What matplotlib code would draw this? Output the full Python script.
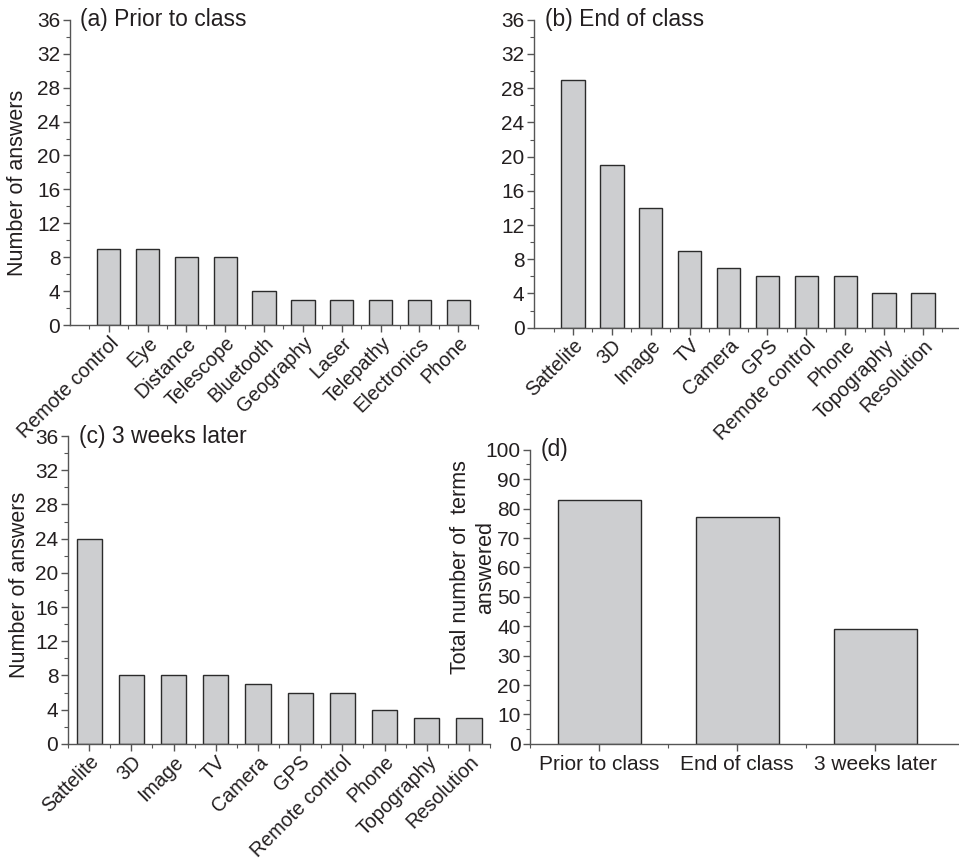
import matplotlib
matplotlib.use("Agg")
import matplotlib.pyplot as plt
from matplotlib.ticker import MultipleLocator, FixedLocator

plt.rcParams['font.family'] = ['Liberation Sans', 'DejaVu Sans']

# Panel (a): terms named before the class
terms_prior = ["Remote control", "Eye", "Distance", "Telescope", "Bluetooth",
               "Geography", "Laser", "Telepathy", "Electronics", "Phone"]
counts_prior = [9, 9, 8, 8, 4, 3, 3, 3, 3, 3]

# Panel (b): terms named at the end of the class
terms_end = ["Sattelite", "3D", "Image", "TV", "Camera", "GPS",
             "Remote control", "Phone", "Topography", "Resolution"]
counts_end = [29, 19, 14, 9, 7, 6, 6, 6, 4, 4]

# Panel (c): terms named three weeks later
terms_later = ["Sattelite", "3D", "Image", "TV", "Camera", "GPS",
               "Remote control", "Phone", "Topography", "Resolution"]
counts_later = [24, 8, 8, 8, 7, 6, 6, 4, 3, 3]

# Panel (d): total number of terms
stages = ["Prior to class", "End of class", "3 weeks later"]
totals = [83, 77, 39]

BAR_FACE = "#cdced0"
BAR_EDGE = "#2b2b2b"
INK = "#231f20"
AX_COL = "#555555"
FS_TICK = 15
FS_CAT = 14.2
FS_TITLE = 16.5
FS_LABEL = 15.5

W, H = 959, 860
fig = plt.figure(figsize=(W / 100, H / 100), dpi=100)


def style_axes(ax):
    for s in ("top", "right"):
        ax.spines[s].set_visible(False)
    for s in ("left", "bottom"):
        ax.spines[s].set_color(AX_COL)
        ax.spines[s].set_linewidth(1.0)
    ax.tick_params(which="major", direction="out", length=5, width=1.0,
                   color=AX_COL, labelsize=FS_TICK, labelcolor=INK, pad=2)
    ax.tick_params(which="minor", direction="out", length=3, width=0.8,
                   color=AX_COL)


def term_panel(rect, names, values, title, xlim):
    ax = fig.add_axes(rect)
    style_axes(ax)
    x = list(range(len(names)))
    ax.bar(x, values, width=0.6, color=BAR_FACE, edgecolor=BAR_EDGE,
           linewidth=1.0, zorder=2)
    ax.set_xlim(*xlim)
    ax.set_ylim(0, 36)
    ax.yaxis.set_major_locator(MultipleLocator(4))
    ax.yaxis.set_minor_locator(MultipleLocator(2))
    ax.set_xticks(x)
    ax.set_xticklabels(names, rotation=45, ha="right",
                       rotation_mode="anchor", fontsize=FS_CAT, color=INK)
    ax.xaxis.set_minor_locator(FixedLocator([i + 0.5 for i in range(-1, len(names))]))
    ax.tick_params(axis="x", which="major", pad=1, labelsize=FS_CAT)
    ax.text(0.025, 1.0, title, transform=ax.transAxes, fontsize=FS_TITLE,
            color=INK, va="center", ha="left")
    return ax


term_panel([0.073, 0.622, 0.425, 0.355], terms_prior, counts_prior,
           "(a) Prior to class", (-1.0, 9.5))
term_panel([0.557, 0.619, 0.442, 0.358], terms_end, counts_end,
           "(b) End of class", (-1.0, 9.9))
term_panel([0.071, 0.135, 0.440, 0.358], terms_later, counts_later,
           "(c) 3 weeks later", (-0.5, 9.5))

fig.text(18 / W, 1 - 183 / H, "Number of answers", rotation=90,
         ha="center", va="center", fontsize=FS_LABEL, color=INK)
fig.text(20 / W, 1 - 585 / H, "Number of answers", rotation=90,
         ha="center", va="center", fontsize=FS_LABEL, color=INK)

# Panel (d)
axd = fig.add_axes([0.553, 0.135, 0.446, 0.342])
style_axes(axd)
xd = list(range(len(stages)))
axd.bar(xd, totals, width=0.6, color=BAR_FACE, edgecolor=BAR_EDGE,
        linewidth=1.0, zorder=2)
axd.set_xlim(-0.5, 2.6)
axd.set_ylim(0, 100)
axd.yaxis.set_major_locator(MultipleLocator(10))
axd.yaxis.set_minor_locator(MultipleLocator(5))
axd.set_xticks(xd)
axd.set_xticklabels(stages, fontsize=FS_TICK, color=INK)
axd.xaxis.set_minor_locator(FixedLocator([-0.5, 0.5, 1.5]))
axd.tick_params(axis="x", which="major", pad=3)
axd.text(0.025, 1.0, "(d)", transform=axd.transAxes, fontsize=FS_TITLE,
         color=INK, va="center", ha="left")
fig.text(473 / W, 1 - 567 / H, "Total number of  terms\nanswered",
         rotation=90, ha="center", va="center", multialignment="center",
         fontsize=FS_LABEL, color=INK, linespacing=1.3)

fig.savefig("out.png", dpi=100, facecolor="white")
